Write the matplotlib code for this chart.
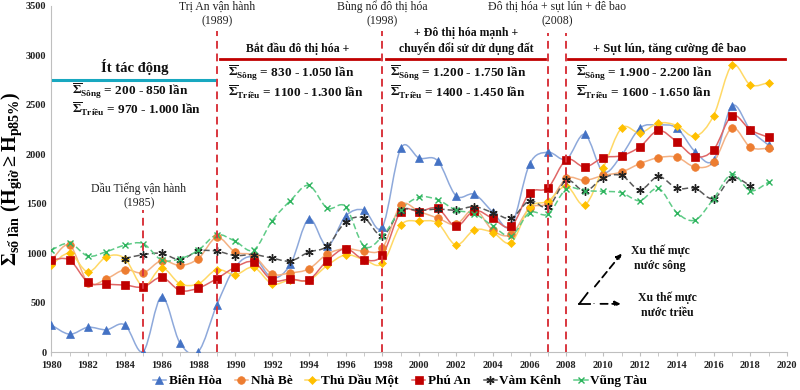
import numpy as np
import matplotlib
matplotlib.use("Agg")
import matplotlib.pyplot as plt
from matplotlib.path import Path
from matplotlib.patches import PathPatch, Arc
from matplotlib.lines import Line2D

plt.rcParams['font.family'] = ['Liberation Serif', 'DejaVu Serif']
plt.rcParams['mathtext.fontset'] = 'custom'
plt.rcParams['mathtext.rm'] = 'Liberation Serif:bold'
plt.rcParams['mathtext.bf'] = 'Liberation Serif:bold'
plt.rcParams['mathtext.it'] = 'Liberation Serif:bold'

# ---------------- data ----------------
years = list(range(1980, 2020))
bien_hoa = [275, 180, 250, 225, 275, 5, 560, 90, 5, 475,
            860, 960, 750, 885, 1345, 1070, 1375, 1435, 1265, 2060,
            1960, 1935, 1580, 1595, 1415, 1275, 1900, 2020, 1950, 2200,
            1820, 1990, 2265, 2295, 2265, 2025, 1940, 2490, 2245, 2090]
nha_be = [920, 1080, 700, 740, 833, 800, 925, 875, 945, 1160,
          1010, 975, 790, 800, 840, 990, 1045, 1020, 1050, 1485,
          1420, 1355, 1290, 1445, 1230, 1190, 1455, 1505, 1755, 1735,
          1785, 1820, 1905, 1965, 1970, 1870, 1920, 2265, 2070, 2060]
thu_dau_mot = [878, 997, 810, 963, 945, 663, 850, 690, 690, 833,
               782, 857, 690, 730, 725, 875, 983, 935, 895, 1283,
               1323, 1303, 1082, 1235, 1208, 1106, 1463, 1525, 1677, 1487,
               1860, 2265, 2215, 2315, 2290, 2180, 2390, 2900, 2700, 2725]
phu_an = [930, 930, 705, 685, 677, 657, 755, 622, 647, 742,
          857, 910, 725, 738, 730, 925, 1045, 935, 980, 1420,
          1420, 1453, 1270, 1430, 1350, 1270, 1610, 1660, 1945, 1870,
          1965, 1985, 2075, 2240, 2125, 1975, 2045, 2390, 2245, 2170]
vam_kenh_years = list(range(1984, 2019))
vam_kenh = [945, 985, 997, 935, 1020, 1020, 975, 985, 950, 920,
            1010, 1070, 1315, 1355, 1175, 1430, 1430, 1445, 1435, 1470,
            1410, 1355, 1530, 1465, 1735, 1625, 1760, 1785, 1640, 1775,
            1655, 1655, 1550, 1760, 1680]
vung_tau = [1030, 1100, 970, 1015, 1080, 1095, 930, 943, 1030, 1185,
            1120, 1030, 1325, 1530, 1685, 1455, 1470, 1070, 1170, 1440,
            1565, 1540, 1435, 1400, 1275, 1175, 1410, 1395, 1650, 1630,
            1625, 1610, 1530, 1655, 1410, 1335, 1550, 1800, 1630, 1720]

series_names = ['Biên Hòa', 'Nhà Bè', 'Thủ Dầu Một', 'Phú An', 'Vàm Kênh', 'Vũng Tàu']

event_years = [1985, 1989, 1998, 2007, 2008]
event_tops = [1435, 3250, 3250, 3230, 3230]


def smooth_patch(x, y, color, lw, ls):
    x = list(x); y = list(y); n = len(x)
    verts = [(x[0], y[0])]
    codes = [Path.MOVETO]
    for i in range(n - 1):
        p0 = i - 1 if i > 0 else i
        p3 = i + 2 if i + 2 < n else i + 1
        c1 = (x[i] + (x[i + 1] - x[p0]) / 6.0, y[i] + (y[i + 1] - y[p0]) / 6.0)
        c2 = (x[i + 1] - (x[p3] - x[i]) / 6.0, y[i + 1] - (y[p3] - y[i]) / 6.0)
        verts += [c1, c2, (x[i + 1], y[i + 1])]
        codes += [Path.CURVE4] * 3
    return PathPatch(Path(verts, codes), fill=False, edgecolor=color, lw=lw,
                     linestyle=ls, zorder=2)


fig = plt.figure(figsize=(8, 3.9), dpi=100)
ax = fig.add_axes([0.064, 0.0974, 0.92, 0.8876])
ax.set_xlim(1980, 2020)
ax.set_ylim(0, 3500)

styles = [
    (years, bien_hoa, '#8EA9DB', '-', '^', '#4472C4', 5.5),
    (years, nha_be, '#F4B183', '-', 'o', '#ED7D31', 5.5),
    (years, thu_dau_mot, '#FFD966', '-', 'D', '#FFC000', 4.2),
    (years, phu_an, '#E06666', '-', 's', '#C00000', 5.3),
    (vam_kenh_years, vam_kenh, '#595959', (0, (4, 2)), (6, 2, 0), '#222222', 6),
    (years, vung_tau, '#5FCB87', (0, (4, 2)), 'x', '#2EB45E', 5),
]
handles = []
for (xs, ys, lc, ls, mk, mc, ms), name in zip(styles, series_names):
    ax.add_patch(smooth_patch(xs, ys, lc, 1.1, ls))
    ax.plot(xs, ys, linestyle='none', marker=mk, color=mc, markersize=ms,
            markeredgewidth=1.0 if mk in ('x', (6, 2, 0)) else 0.5,
            markeredgecolor=mc, zorder=3)
    handles.append(Line2D([], [], color=lc, linestyle='-', lw=1.1, marker=mk,
                          markerfacecolor=mc, markeredgecolor=mc, markersize=ms,
                          markeredgewidth=1.0 if mk in ('x', (6, 2, 0)) else 0.5))

# vertical event lines
for ey, top in zip(event_years, event_tops):
    ax.plot([ey, ey], [0, top], color='#D9363E', lw=1.4, linestyle=(0, (4, 2.5)),
            zorder=4)

# period lines
ax.plot([1980.1, 1988.86], [2755, 2755], color='#18A8C0', lw=2.2, zorder=4)
for x0, x1 in [(1989.2, 1997.83), (1998.2, 2006.85), (2008.1, 2019.9)]:
    ax.plot([x0, x1], [2966, 2966], color='#C00000', lw=2.0, zorder=4, clip_on=False)

tk = dict(ha='center', va='center', fontsize=8.5, color='#222222', clip_on=False)
ax.text(1989.0, 3490, 'Trị An vận hành', **tk)
ax.text(1989.0, 3345, '(1989)', **tk)
ax.text(1998.0, 3490, 'Bùng nổ đô thị hóa', **tk)
ax.text(1998.0, 3345, '(1998)', **tk)
ax.text(2007.5, 3490, 'Đô thị hóa + sụt lún + đê bao', **tk)
ax.text(2007.5, 3345, '(2008)', **tk)

bk = dict(ha='center', va='center', fontsize=8.5, fontweight='bold', color='#111111')
ax.text(1984.54, 2885, 'Ít tác động', ha='center', va='center', fontsize=10.5,
        fontweight='bold', color='#111111')
ax.text(1993.4, 3068, 'Bắt đầu đô thị hóa +', **bk)
ax.text(2002.55, 3221, '+ Đô thị hóa mạnh +', **bk)
ax.text(2002.55, 3068, 'chuyển đổi sử dử dụng đất', **bk)
ax.text(2013.6, 3068, '+ Sụt lún, tăng cường đê bao', ha='center', va='center',
        fontsize=9, fontweight='bold', color='#111111')

fk = dict(ha='left', va='center', fontsize=9.5, fontweight='bold', color='#111111')
sg = r'$\overline{\Sigma}_{\mathrm{Sông}}$'
tr = r'$\overline{\Sigma}_{\mathrm{Triều}}$'
ax.text(1981.14, 2640, sg + ' = 200 - 850 lần', **fk)
ax.text(1981.14, 2455, tr + ' = 970 - 1.000 lần', **fk)
ax.text(1989.6, 2823, sg + ' = 830 - 1.050 lần', **fk)
ax.text(1989.6, 2629, tr + ' = 1100 - 1.300 lần', **fk)
ax.text(1998.4, 2823, sg + ' = 1.200 - 1.750 lần', **fk)
ax.text(1998.4, 2629, tr + ' = 1400 - 1.450 lần', **fk)
ax.text(2008.53, 2823, sg + ' = 1.900 - 2.200 lần', **fk)
ax.text(2008.53, 2629, tr + ' = 1600 - 1.650 lần', **fk)

ax.text(1984.77, 1650, 'Dầu Tiếng vận hành', **tk)
ax.text(1984.77, 1505, '(1985)', **tk)

# trend arrows
vx, vy = 2008.7, 487
ax.plot([vx, 2009.3], [vy, vy], color='black', lw=1.3, zorder=5)
ax.plot([vx, vx + 0.45], [vy, vy + 110], color='black', lw=1.3, zorder=5)
ax.annotate('', xy=(2011.1, 1017), xytext=(2009.45, 640),
            arrowprops=dict(arrowstyle='-|>', color='black', lw=1.3,
                            linestyle=(0, (4, 2.5)), mutation_scale=8))
ax.annotate('', xy=(2011.1, 487), xytext=(2009.7, 487),
            arrowprops=dict(arrowstyle='-|>', color='black', lw=1.3,
                            linestyle=(0, (4, 2.5)), mutation_scale=8))
ax.add_patch(Arc((vx, vy), 1.6, 330, theta1=0, theta2=80, color='black', lw=1.2))
ak = dict(ha='center', va='center', fontsize=8.5, fontweight='bold', color='#111111')
ax.text(2013.1, 1020, 'Xu thế mực', **ak)
ax.text(2013.1, 867, 'nước sông', **ak)
ax.text(2013.5, 545, 'Xu thế mực', **ak)
ax.text(2013.5, 392, 'nước triều', **ak)

# axes styling
for s in ['top', 'right']:
    ax.spines[s].set_visible(False)
for s in ['left', 'bottom']:
    ax.spines[s].set_color('#BFBFBF')
ax.set_xticks(range(1980, 2021, 2))
ax.set_xticks(range(1980, 2021, 1), minor=True)
ax.set_yticks(range(0, 3501, 500))
ax.tick_params(axis='both', labelsize=7.5, colors='#BFBFBF', labelcolor='#222222',
               length=3)
ax.tick_params(axis='x', which='minor', length=3, colors='#BFBFBF')
ax.tick_params(axis='y', length=0)
for lab in ax.get_xticklabels() + ax.get_yticklabels():
    lab.set_fontweight('bold')

ax.set_ylabel(r'$\Sigma_{\mathrm{số\ lần}}\ (\mathrm{H}_{\mathrm{giờ}} \geq \mathrm{H}_{\mathrm{p85\%}})$',
              fontsize=14.5, labelpad=1)

fig.legend(handles=handles, labels=series_names, loc='center', ncol=6,
           bbox_to_anchor=(0.5, 0.023), frameon=False,
           prop={'weight': 'bold', 'size': 9.5}, handlelength=1.0,
           handletextpad=0.2, columnspacing=1.0)

fig.savefig('out.png', dpi=100)
